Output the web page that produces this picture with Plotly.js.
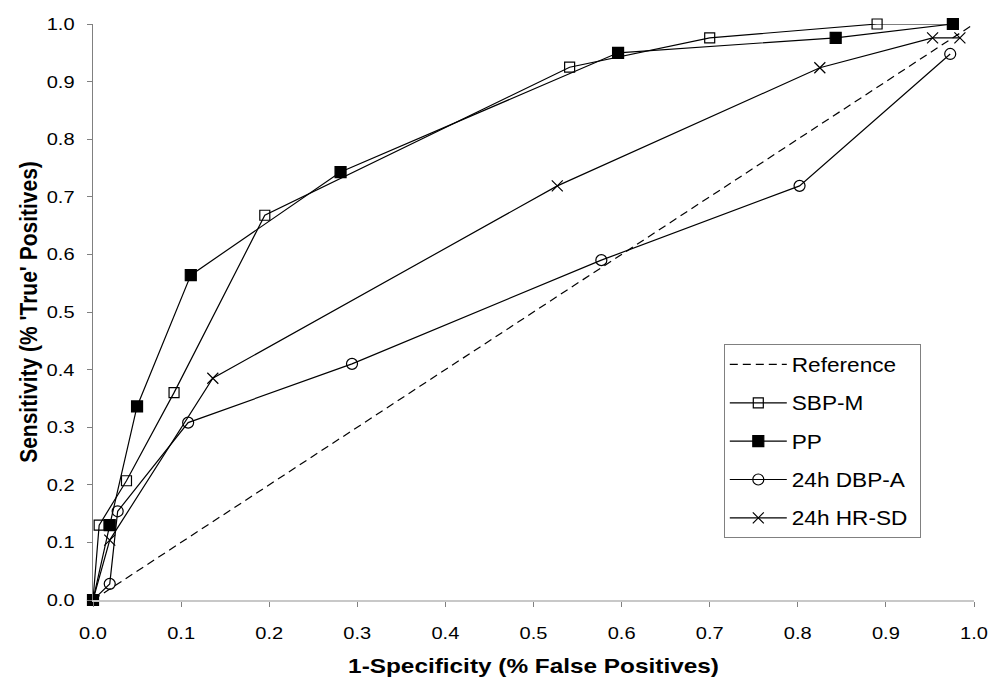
<!DOCTYPE html>
<html>
<head>
<meta charset="utf-8">
<script src="https://cdn.plot.ly/plotly-3.0.1.min.js"></script>
<style>
  html, body { margin: 0; padding: 0; background: #fff; }
  #chart { width: 991px; height: 682px; }
</style>
</head>
<body>
<div id="chart"></div>
<script>
// ROC curves: 1-specificity (x) vs sensitivity (y)
const refX = [0, 1];
const refY = [0, 1];

const sbpX = [0, 0.007, 0.038, 0.092, 0.195, 0.541, 0.700, 0.890, 0.976];
const sbpY = [0, 0.130, 0.207, 0.360, 0.668, 0.925, 0.976, 1.000, 1.000];

const ppX = [0, 0.019, 0.050, 0.111, 0.281, 0.596, 0.843, 0.976];
const ppY = [0, 0.130, 0.336, 0.564, 0.743, 0.950, 0.976, 1.000];

const dbpX = [0, 0.019, 0.028, 0.108, 0.294, 0.577, 0.802, 0.973];
const dbpY = [0, 0.028, 0.154, 0.308, 0.410, 0.590, 0.719, 0.948];

const hrX = [0, 0.019, 0.136, 0.527, 0.825, 0.953, 0.984];
const hrY = [0, 0.104, 0.385, 0.719, 0.924, 0.976, 0.976];

const xTicks = [0, 0.1, 0.2, 0.3, 0.4, 0.5, 0.6, 0.7, 0.8, 0.9, 1.0];
const yTicks = [0, 0.1, 0.2, 0.3, 0.4, 0.5, 0.6, 0.7, 0.8, 0.9, 1.0];
const tickText = ['0.0', '0.1', '0.2', '0.3', '0.4', '0.5', '0.6', '0.7', '0.8', '0.9', '1.0'];

// the lettering is a slightly wide Arial
const TEXT_STRETCH = 1.16;

const lineStyle = { color: '#000', width: 1.2 };

function series(name, x, y, symbol, size, group) {
  return {
    type: 'scatter', mode: 'lines+markers', name: name, x: x, y: y,
    legendgroup: group, cliponaxis: false,
    line: lineStyle,
    marker: { symbol: symbol, size: size, color: '#000', line: { color: '#000', width: 1.2 } }
  };
}

const traces = [
  {
    type: 'scatter', mode: 'lines', name: 'Reference', x: refX, y: refY,
    legendgroup: 'g0', cliponaxis: false,
    line: { color: '#000', width: 1.2, dash: '8px,5px' }
  },
  series('SBP-M', sbpX, sbpY, 'square-open', 10, 'g1'),
  series('PP', ppX, ppY, 'square', 11, 'g2'),
  series('24h DBP-A', dbpX, dbpY, 'circle-open', 11, 'g3'),
  series('24h HR-SD', hrX, hrY, 'x-thin-open', 11, 'g4')
];

const layout = {
  width: 991, height: 682,
  paper_bgcolor: '#fff', plot_bgcolor: '#fff',
  margin: { l: 93, r: 17, t: 24, b: 82 },
  font: { family: 'Liberation Sans, Arial, sans-serif', color: '#000' },
  showlegend: true,
  legend: {
    x: 0.716, y: 0.444, xanchor: 'left', yanchor: 'top',
    bordercolor: '#808080', borderwidth: 1, bgcolor: '#fff',
    font: { size: 19.5, color: '#000' },
    traceorder: 'grouped', tracegroupgap: 10, itemwidth: 57
  },
  xaxis: {
    range: [0, 1], tickvals: xTicks, ticktext: tickText,
    showgrid: false, zeroline: false,
    showline: true, linecolor: '#c8c8c8', linewidth: 2,
    ticks: 'outside', ticklen: 5, tickcolor: '#808080', tickwidth: 1,
    ticklabelstandoff: 11,
    tickfont: { size: 17.3 },
    title: { text: '<b>1-Specificity (% False Positives)</b>', font: { size: 21 }, standoff: 17 }
  },
  yaxis: {
    range: [0, 1], tickvals: yTicks, ticktext: tickText,
    showgrid: false, zeroline: false,
    showline: true, linecolor: '#808080', linewidth: 1,
    ticks: 'outside', ticklen: 5, tickcolor: '#808080', tickwidth: 1,
    ticklabelstandoff: 9,
    tickfont: { size: 17.3 },
    title: { text: '<b>Sensitivity (% \'True\' Positives)</b>', font: { size: 21 }, standoff: 8 }
  }
};

// widen a text element horizontally about an anchor point on screen
function widen(svg, el, s, anchor) {
  const r = el.getBoundingClientRect();
  const sx = anchor === 'end' ? r.right : anchor === 'start' ? r.left : (r.left + r.right) / 2;
  const parent = el.parentNode;
  const pt = svg.createSVGPoint();
  pt.x = sx; pt.y = r.top;
  const q = pt.matrixTransform(parent.getScreenCTM().inverse());
  const g = document.createElementNS('http://www.w3.org/2000/svg', 'g');
  g.setAttribute('transform', 'translate(' + q.x + ',0) scale(' + s + ',1) translate(' + (-q.x) + ',0)');
  parent.insertBefore(g, el);
  g.appendChild(el);
}

Plotly.newPlot('chart', traces, layout, { staticPlot: true, displayModeBar: false }).then(function (gd) {
  const svg = gd.querySelector('svg.main-svg');
  gd.querySelectorAll('.xtick text').forEach(el => widen(svg, el, TEXT_STRETCH, 'middle'));
  gd.querySelectorAll('.ytick text').forEach(el => widen(svg, el, TEXT_STRETCH, 'end'));
  gd.querySelectorAll('.g-xtitle text, .g-ytitle text').forEach(el => widen(svg, el, TEXT_STRETCH, 'middle'));
  gd.querySelectorAll('.legend .legendtext').forEach(el => widen(svg, el, TEXT_STRETCH, 'start'));
  // make room in the legend box for the wider entries
  const sb = gd.querySelector('.legend .scrollbox');
  if (sb) sb.removeAttribute('clip-path');
  const bg = gd.querySelector('.legend rect.bg');
  if (bg) bg.setAttribute('width', 196);
});
</script>
</body>
</html>
